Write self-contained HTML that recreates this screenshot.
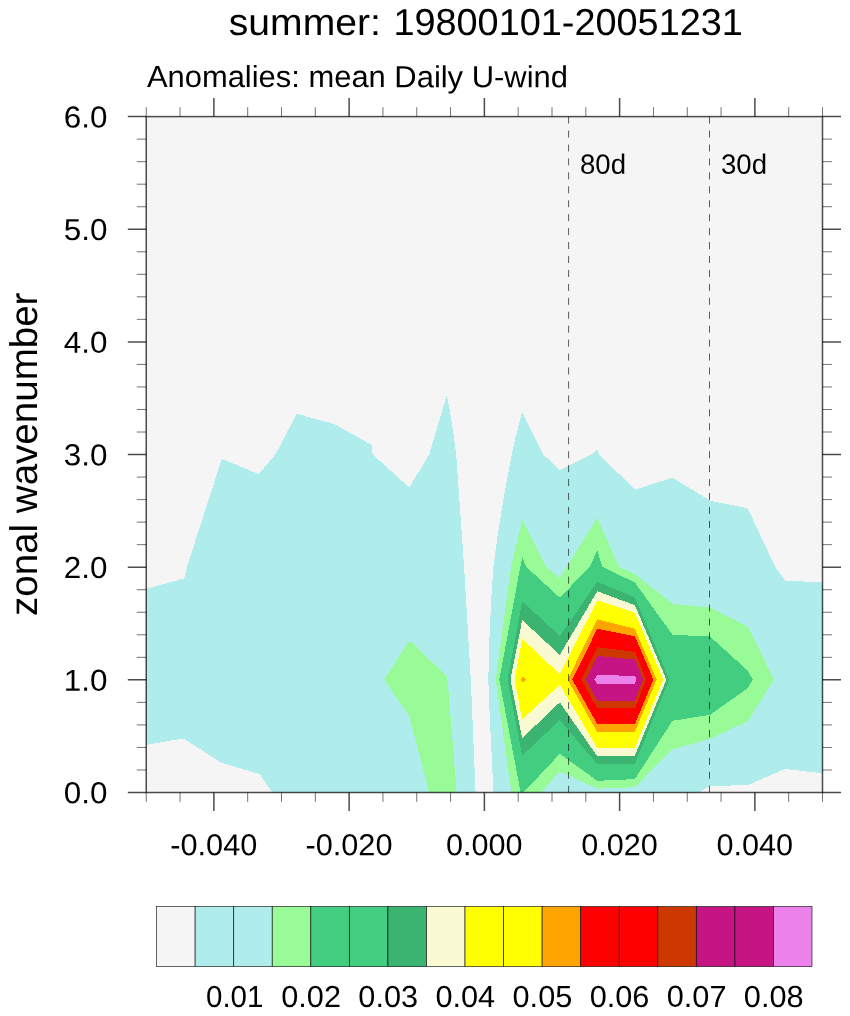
<!DOCTYPE html>
<html lang="en">
<head>
<meta charset="utf-8">
<title>summer: 19800101-20051231</title>
<style>
html,body{margin:0;padding:0;background:#ffffff;}
body{width:850px;height:1016px;overflow:hidden;}
svg{display:block;}
text{font-family:"Liberation Sans",sans-serif;fill:#000;text-rendering:geometricPrecision;}
</style>
</head>
<body>
<svg width="850" height="1016" viewBox="0 0 850 1016">
<rect x="0" y="0" width="850" height="1016" fill="#ffffff"/>
<rect x="146.25" y="116.6" width="676.2" height="675.9" fill="#f5f5f5"/>
<clipPath id="pc"><rect x="146.25" y="116.6" width="676.25" height="675.90"/></clipPath>
<g shape-rendering="crispEdges" clip-path="url(#pc)">
<polygon fill="#afeded" points="145.5,589.0 184.0,578.5 187.0,566.9 221.8,458.8 258.9,474.2 275.5,454.3 296.7,413.9 334.2,424.0 371.8,444.9 372.6,454.3 409.2,487.5 429.2,454.6 446.7,395.2 449.8,410.7 453.1,431.3 456.2,454.3 464.1,566.9 470.8,679.6 475.6,793.0 272.6,793.0 259.6,774.0 221.4,762.8 183.2,738.4 145.5,745.1"/>
<polygon fill="#afeded" points="493.4,793.0 491.8,757.4 489.8,718.0 488.3,679.6 489.4,639.3 491.2,600.0 493.4,566.9 497.3,537.7 503.6,498.4 507.1,478.7 511.9,454.3 515.0,439.3 522.2,411.9 543.1,454.3 559.8,470.0 591.8,454.3 597.3,449.7 599.2,454.3 634.9,489.8 672.5,477.6 710.1,500.7 747.7,508.2 775.2,566.9 785.2,580.5 823.5,582.6 823.5,773.4 785.2,768.9 747.7,785.2 710.1,785.9 698.2,793.0"/>
<polygon fill="#98fb98" points="384.4,679.5 409.3,640.4 446.6,676.0 447.6,680.0 456.7,793.0 429.4,793.0 409.3,716.6"/>
<polygon fill="#98fb98" points="511.5,793.0 495.7,679.6 511.1,566.9 522.2,519.5 546.0,566.9 559.8,577.8 597.3,518.0 619.0,566.9 634.9,574.2 672.5,604.0 710.1,607.5 747.7,626.7 774.0,679.6 747.7,721.2 710.1,738.8 672.5,749.3 634.9,787.2 597.3,788.6 559.8,771.5 540.5,793.0"/>
<polygon fill="#43cd80" points="520.7,793.0 499.3,679.6 520.3,566.9 522.2,557.0 526.2,566.9 559.8,597.6 589.5,566.9 597.3,550.6 602.4,566.9 634.9,582.5 672.5,634.8 710.1,636.5 747.7,670.6 752.8,679.6 747.7,688.2 710.1,714.8 672.5,720.8 634.9,779.1 597.3,780.8 559.8,753.8 523.1,793.0"/>
<polygon fill="#3bb371" points="507.5,679.6 522.2,601.3 559.8,636.1 597.3,581.9 634.9,597.4 669.2,679.6 634.9,763.6 597.3,764.3 559.8,720.0 522.2,755.5"/>
<polygon fill="#fafad2" points="510.5,679.6 522.2,620.0 559.8,654.8 597.3,591.3 634.9,605.2 666.4,679.6 634.9,755.7 597.3,756.4 559.8,702.3 522.2,738.2"/>
<polygon fill="#ffff00" points="514.5,679.6 522.2,638.6 559.8,674.3 597.3,600.2 634.9,612.9 663.3,679.6 634.9,747.7 597.3,748.1 559.8,684.9 522.2,719.2"/>
<polygon fill="#ffa400" points="521.0,679.6 522.6,676.7 526.2,679.6 522.6,682.6"/>
<polygon fill="#ffa400" points="567.6,679.6 597.3,619.3 634.9,628.8 656.7,679.6 634.9,731.9 597.3,732.1"/>
<polygon fill="#ff0000" points="572.2,679.6 597.3,628.8 634.9,636.2 653.4,679.6 634.9,724.1 597.3,724.1"/>
<polygon fill="#cd3700" points="581.3,679.6 597.3,647.3 634.9,651.8 646.1,679.6 634.9,708.4 597.3,708.4"/>
<polygon fill="#c71485" points="585.9,679.6 597.3,656.0 634.9,659.5 643.1,679.6 634.9,700.5 597.3,700.8"/>
<polygon fill="#ed82ed" points="594.3,679.6 597.3,675.1 634.9,675.8 636.5,679.6 634.9,684.1 597.3,684.1"/>
</g>
<line x1="568.6" y1="116.6" x2="568.6" y2="792.5" stroke="#000" stroke-opacity="0.75" stroke-width="0.85" stroke-dasharray="7 6.94"/>
<line x1="709.5" y1="116.6" x2="709.5" y2="792.5" stroke="#000" stroke-opacity="0.75" stroke-width="0.85" stroke-dasharray="7 6.94"/>
<path d="M136.8 769.97H146.25M822.5 769.97H831.9M136.8 747.44H146.25M822.5 747.44H831.9M136.8 724.91H146.25M822.5 724.91H831.9M136.8 702.38H146.25M822.5 702.38H831.9M136.8 657.32H146.25M822.5 657.32H831.9M136.8 634.79H146.25M822.5 634.79H831.9M136.8 612.26H146.25M822.5 612.26H831.9M136.8 589.73H146.25M822.5 589.73H831.9M136.8 544.67H146.25M822.5 544.67H831.9M136.8 522.14H146.25M822.5 522.14H831.9M136.8 499.61H146.25M822.5 499.61H831.9M136.8 477.08H146.25M822.5 477.08H831.9M136.8 432.02H146.25M822.5 432.02H831.9M136.8 409.49H146.25M822.5 409.49H831.9M136.8 386.96H146.25M822.5 386.96H831.9M136.8 364.43H146.25M822.5 364.43H831.9M136.8 319.37H146.25M822.5 319.37H831.9M136.8 296.84H146.25M822.5 296.84H831.9M136.8 274.31H146.25M822.5 274.31H831.9M136.8 251.78H146.25M822.5 251.78H831.9M136.8 206.72H146.25M822.5 206.72H831.9M136.8 184.19H146.25M822.5 184.19H831.9M136.8 161.66H146.25M822.5 161.66H831.9M136.8 139.13H146.25M822.5 139.13H831.9M146.25 116.6V107.2M146.25 792.5V801.9M180.06 116.6V107.2M180.06 792.5V801.9M247.69 116.6V107.2M247.69 792.5V801.9M281.50 116.6V107.2M281.50 792.5V801.9M315.31 116.6V107.2M315.31 792.5V801.9M382.94 116.6V107.2M382.94 792.5V801.9M416.75 116.6V107.2M416.75 792.5V801.9M450.56 116.6V107.2M450.56 792.5V801.9M518.19 116.6V107.2M518.19 792.5V801.9M552.00 116.6V107.2M552.00 792.5V801.9M585.81 116.6V107.2M585.81 792.5V801.9M653.44 116.6V107.2M653.44 792.5V801.9M687.25 116.6V107.2M687.25 792.5V801.9M721.06 116.6V107.2M721.06 792.5V801.9M788.69 116.6V107.2M788.69 792.5V801.9M822.50 116.6V107.2M822.50 792.5V801.9" stroke="#000" stroke-opacity="0.62" stroke-width="0.9" fill="none"/>
<path d="M127.8 792.50H146.25M822.5 792.50H841.0M127.8 679.85H146.25M822.5 679.85H841.0M127.8 567.20H146.25M822.5 567.20H841.0M127.8 454.55H146.25M822.5 454.55H841.0M127.8 341.90H146.25M822.5 341.90H841.0M127.8 229.25H146.25M822.5 229.25H841.0M127.8 116.60H146.25M822.5 116.60H841.0M213.88 116.6V98.1M213.88 792.5V811.0M349.12 116.6V98.1M349.12 792.5V811.0M484.38 116.6V98.1M484.38 792.5V811.0M619.62 116.6V98.1M619.62 792.5V811.0M754.88 116.6V98.1M754.88 792.5V811.0" stroke="#000" stroke-opacity="0.7" stroke-width="1.5" fill="none"/>
<rect x="146.25" y="116.6" width="676.25" height="675.90" fill="none" stroke="#000" stroke-opacity="0.7" stroke-width="1.5"/>
<rect x="156.60" y="906.6" width="38.55" height="60.0" fill="#f5f5f5" stroke="#000" stroke-opacity="0.8" stroke-width="0.75"/>
<rect x="195.15" y="906.6" width="38.55" height="60.0" fill="#afeded" stroke="#000" stroke-opacity="0.8" stroke-width="0.75"/>
<rect x="233.71" y="906.6" width="38.55" height="60.0" fill="#afeded" stroke="#000" stroke-opacity="0.8" stroke-width="0.75"/>
<rect x="272.26" y="906.6" width="38.55" height="60.0" fill="#98fb98" stroke="#000" stroke-opacity="0.8" stroke-width="0.75"/>
<rect x="310.81" y="906.6" width="38.55" height="60.0" fill="#43cd80" stroke="#000" stroke-opacity="0.8" stroke-width="0.75"/>
<rect x="349.36" y="906.6" width="38.55" height="60.0" fill="#43cd80" stroke="#000" stroke-opacity="0.8" stroke-width="0.75"/>
<rect x="387.92" y="906.6" width="38.55" height="60.0" fill="#3bb371" stroke="#000" stroke-opacity="0.8" stroke-width="0.75"/>
<rect x="426.47" y="906.6" width="38.55" height="60.0" fill="#fafad2" stroke="#000" stroke-opacity="0.8" stroke-width="0.75"/>
<rect x="465.02" y="906.6" width="38.55" height="60.0" fill="#ffff00" stroke="#000" stroke-opacity="0.8" stroke-width="0.75"/>
<rect x="503.58" y="906.6" width="38.55" height="60.0" fill="#ffff00" stroke="#000" stroke-opacity="0.8" stroke-width="0.75"/>
<rect x="542.13" y="906.6" width="38.55" height="60.0" fill="#ffa400" stroke="#000" stroke-opacity="0.8" stroke-width="0.75"/>
<rect x="580.68" y="906.6" width="38.55" height="60.0" fill="#ff0000" stroke="#000" stroke-opacity="0.8" stroke-width="0.75"/>
<rect x="619.24" y="906.6" width="38.55" height="60.0" fill="#ff0000" stroke="#000" stroke-opacity="0.8" stroke-width="0.75"/>
<rect x="657.79" y="906.6" width="38.55" height="60.0" fill="#cd3700" stroke="#000" stroke-opacity="0.8" stroke-width="0.75"/>
<rect x="696.34" y="906.6" width="38.55" height="60.0" fill="#c71485" stroke="#000" stroke-opacity="0.8" stroke-width="0.75"/>
<rect x="734.89" y="906.6" width="38.55" height="60.0" fill="#c71485" stroke="#000" stroke-opacity="0.8" stroke-width="0.75"/>
<rect x="773.45" y="906.6" width="38.55" height="60.0" fill="#ed82ed" stroke="#000" stroke-opacity="0.8" stroke-width="0.75"/>
<text x="234.7" y="1006.9" font-size="30.4" text-anchor="middle" textLength="57.4" lengthAdjust="spacingAndGlyphs" transform="rotate(0.03 234.7 1006.9)">0.01</text>
<text x="311.1" y="1006.9" font-size="30.4" text-anchor="middle" textLength="59.7" lengthAdjust="spacingAndGlyphs" transform="rotate(0.03 311.1 1006.9)">0.02</text>
<text x="388.2" y="1006.9" font-size="30.4" text-anchor="middle" textLength="59.7" lengthAdjust="spacingAndGlyphs" transform="rotate(0.03 388.2 1006.9)">0.03</text>
<text x="465.3" y="1006.9" font-size="30.4" text-anchor="middle" textLength="59.7" lengthAdjust="spacingAndGlyphs" transform="rotate(0.03 465.3 1006.9)">0.04</text>
<text x="542.4" y="1006.9" font-size="30.4" text-anchor="middle" textLength="59.7" lengthAdjust="spacingAndGlyphs" transform="rotate(0.03 542.4 1006.9)">0.05</text>
<text x="619.5" y="1006.9" font-size="30.4" text-anchor="middle" textLength="59.7" lengthAdjust="spacingAndGlyphs" transform="rotate(0.03 619.5 1006.9)">0.06</text>
<text x="696.6" y="1006.9" font-size="30.4" text-anchor="middle" textLength="59.7" lengthAdjust="spacingAndGlyphs" transform="rotate(0.03 696.6 1006.9)">0.07</text>
<text x="773.7" y="1006.9" font-size="30.4" text-anchor="middle" textLength="59.7" lengthAdjust="spacingAndGlyphs" transform="rotate(0.03 773.7 1006.9)">0.08</text>
<text y="34.9" font-size="37.6" transform="rotate(0.02 485 34.9)"><tspan x="228.8" textLength="152.0" lengthAdjust="spacingAndGlyphs">summer:</tspan> <tspan x="393.4" textLength="349.5" lengthAdjust="spacingAndGlyphs">19800101-20051231</tspan></text>
<text x="146.9" y="87.0" font-size="30.5" text-anchor="start" textLength="421" lengthAdjust="spacingAndGlyphs" transform="rotate(0.03 146.9 87.0)">Anomalies: mean Daily U-wind</text>
<text x="107.4" y="803.35" font-size="30.3" text-anchor="end" textLength="43.6" lengthAdjust="spacingAndGlyphs" transform="rotate(0.03 107.4 803.35)">0.0</text>
<text x="107.4" y="690.70" font-size="30.3" text-anchor="end" textLength="43.6" lengthAdjust="spacingAndGlyphs" transform="rotate(0.03 107.4 690.70)">1.0</text>
<text x="107.4" y="578.05" font-size="30.3" text-anchor="end" textLength="43.6" lengthAdjust="spacingAndGlyphs" transform="rotate(0.03 107.4 578.05)">2.0</text>
<text x="107.4" y="465.40" font-size="30.3" text-anchor="end" textLength="43.6" lengthAdjust="spacingAndGlyphs" transform="rotate(0.03 107.4 465.40)">3.0</text>
<text x="107.4" y="352.75" font-size="30.3" text-anchor="end" textLength="43.6" lengthAdjust="spacingAndGlyphs" transform="rotate(0.03 107.4 352.75)">4.0</text>
<text x="107.4" y="240.10" font-size="30.3" text-anchor="end" textLength="43.6" lengthAdjust="spacingAndGlyphs" transform="rotate(0.03 107.4 240.10)">5.0</text>
<text x="107.4" y="127.45" font-size="30.3" text-anchor="end" textLength="43.6" lengthAdjust="spacingAndGlyphs" transform="rotate(0.03 107.4 127.45)">6.0</text>
<text x="213.8" y="855.3" font-size="30.3" text-anchor="middle" textLength="87" lengthAdjust="spacingAndGlyphs" transform="rotate(0.03 213.8 855.3)">-0.040</text>
<text x="349.0" y="855.3" font-size="30.3" text-anchor="middle" textLength="87" lengthAdjust="spacingAndGlyphs" transform="rotate(0.03 349.0 855.3)">-0.020</text>
<text x="484.3" y="855.3" font-size="30.3" text-anchor="middle" textLength="76.6" lengthAdjust="spacingAndGlyphs" transform="rotate(0.03 484.3 855.3)">0.000</text>
<text x="619.5" y="855.3" font-size="30.3" text-anchor="middle" textLength="76.6" lengthAdjust="spacingAndGlyphs" transform="rotate(0.03 619.5 855.3)">0.020</text>
<text x="754.8" y="855.3" font-size="30.3" text-anchor="middle" textLength="76.6" lengthAdjust="spacingAndGlyphs" transform="rotate(0.03 754.8 855.3)">0.040</text>
<text x="580.0" y="173.8" font-size="27.8" text-anchor="start" textLength="46.0" lengthAdjust="spacingAndGlyphs" transform="rotate(0.03 580.0 173.8)">80d</text>
<text x="721.0" y="173.8" font-size="27.8" text-anchor="start" textLength="46.0" lengthAdjust="spacingAndGlyphs" transform="rotate(0.03 721.0 173.8)">30d</text>
<text transform="translate(37.2 454.3) rotate(-90)" font-size="38.6" text-anchor="middle" textLength="323.5" lengthAdjust="spacingAndGlyphs">zonal wavenumber</text>
</svg>
</body>
</html>
